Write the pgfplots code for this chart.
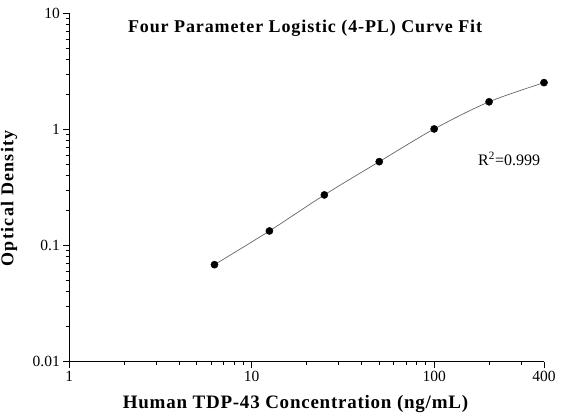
\documentclass[border=0pt]{standalone}
\usepackage{fontspec}
\setmainfont{Liberation Serif}
\usepackage{pgfplots}
\pgfplotsset{compat=1.18}
\newcommand{\tl}{\fontsize{15.5}{17}\selectfont}
\begin{document}
\begin{tikzpicture}[x=1pt,y=1pt]
\path[use as bounding box] (-69.3,-54.3) rectangle (492.7,361.7);
\begin{axis}[
  at={(0,0)}, anchor=south west,
  scale only axis, width=474.7pt, height=348.4pt,
  xmode=log, ymode=log,
  xmin=1, xmax=400, ymin=0.01, ymax=10,
  axis x line*=bottom, axis y line*=left,
  axis line style={-, black, line width=0.9pt},
  tick align=outside,
  xtick={1,10,100,400}, xticklabels={{\tl 1},{\tl 10},{\tl 100},{\tl 400}},
  minor xtick={2,3,4,5,6,7,8,9,20,30,40,50,60,70,80,90,200,300},
  ytick={0.01,0.1,1,10}, yticklabels={{\tl 0.01},{\tl 0.1},{\tl 1},{\tl 10}},
  minor ytick={0.02,0.03,0.04,0.05,0.06,0.07,0.08,0.09,0.2,0.3,0.4,0.5,0.6,0.7,0.8,0.9,2,3,4,5,6,7,8,9},
  major tick length=6pt, minor tick length=3.5pt,
  every tick/.style={black, line width=0.8pt},
  tick label style={font=\tl},
  title={\addfontfeatures{LetterSpace=5}Four Parameter Logistic (4-PL) Curve Fit},
  title style={at={(axis description cs:0.4966,0.9277)}, anchor=base, font=\fontsize{18}{20}\selectfont\bfseries},
  xlabel={\addfontfeatures{LetterSpace=4}Human TDP-43 Concentration (ng/mL)},
  xlabel style={at={(axis description cs:0.4765,-0.1330)}, anchor=base, font=\fontsize{19}{21}\selectfont\bfseries},
  ylabel={\addfontfeatures{LetterSpace=7}Optical Density},
  ylabel style={at={(axis description cs:-0.127,0.469)}, anchor=center, rotate=0, font=\fontsize{18}{20}\selectfont\bfseries},
  clip=false,
]
\addplot[smooth, draw=black!60, line width=0.7pt] coordinates {
  (6.25,0.0685) (12.5,0.1336) (25,0.273) (50,0.528) (100,1.01) (200,1.73) (400,2.53)
};
\addplot[only marks, mark=*, mark size=3.6pt, black] coordinates {
  (6.25,0.0685) (12.5,0.1336) (25,0.273) (50,0.528) (100,1.01) (200,1.73) (400,2.53)
};
\node[font=\fontsize{16}{18}\selectfont, anchor=center] at (axis cs:257.6,0.557) {R\textsuperscript{2}=0.999};
\end{axis}
\end{tikzpicture}
\end{document}
